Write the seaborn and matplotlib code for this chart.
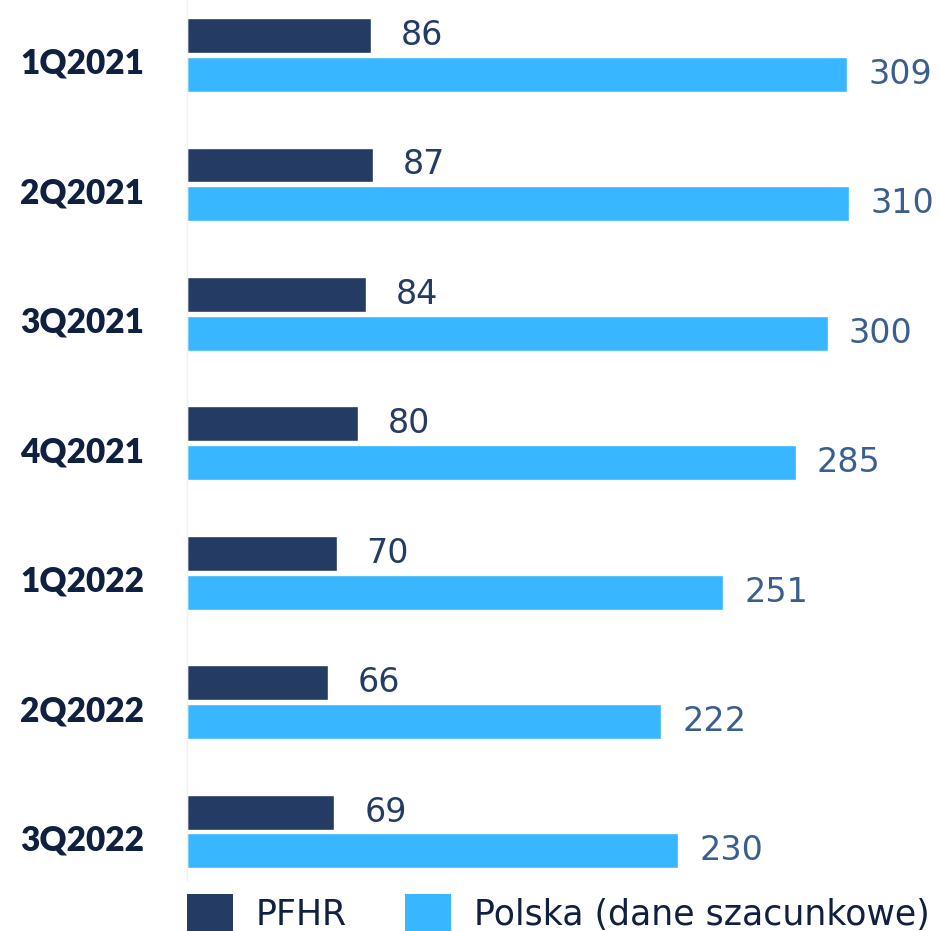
import matplotlib
matplotlib.use("Agg")
import matplotlib.pyplot as plt
import matplotlib.transforms as mtransforms
from matplotlib.patches import Patch
import seaborn as sns
import pandas as pd

categories = ["1Q2021", "2Q2021", "3Q2021", "4Q2021", "1Q2022", "2Q2022", "3Q2022"]
pfhr = [86, 87, 84, 80, 70, 66, 69]
polska = [309, 310, 300, 285, 251, 222, 230]
series_names = ["PFHR", "Polska (dane szacunkowe)"]

dark = "#243B63"
light = "#38B6FF"
label_dark = "#243B63"
label_light = "#3B5E91"
text_color = "#0F2040"

sns.set_theme(style="white")
plt.rcParams["font.family"] = ["DejaVu Sans"]

df = pd.DataFrame({
    "cat": categories * 2,
    "val": pfhr + polska,
    "series": [series_names[0]] * len(categories) + [series_names[1]] * len(categories),
})

W, H = 940, 931
fig = plt.figure(figsize=(W / 100, H / 100), dpi=100)
ax_left, ax_right, ax_top, ax_bottom = 187, 935, 0, 880
ax = fig.add_axes([ax_left / W, 1 - ax_bottom / H, (ax_right - ax_left) / W, (ax_bottom - ax_top) / H])

sns.barplot(data=df, y="cat", x="val", hue="series", orient="h", ax=ax,
            palette=[dark, light], width=0.6, gap=0.1, legend=False,
            saturation=1, order=categories, hue_order=series_names)

px_per_unit = 2.136
ax.set_xlim(0, (ax_right - ax_left) / px_per_unit)
spacing = 129.5
ax.set_ylim(6 + (ax_bottom - 831.5) / spacing, -(55 - ax_top) / spacing)

for i, c in enumerate(categories):
    ax.annotate(str(pfhr[i]), xy=(pfhr[i], i - 0.15), xytext=(51, 0), textcoords="offset pixels",
                ha="center", va="center", fontsize=24, color=label_dark)
    ax.annotate(str(polska[i]), xy=(polska[i], i + 0.15), xytext=(53, 0), textcoords="offset pixels",
                ha="center", va="center", fontsize=24, color=label_light)

ax.set_xlabel("")
ax.set_ylabel("")
ax.set_xticks([])
ax.tick_params(axis="y", length=0, pad=31)
for lab in ax.get_yticklabels():
    lab.set_fontfamily(["Lato", "DejaVu Sans"])
    lab.set_fontsize(24)
    lab.set_fontweight("heavy")
    lab.set_color(text_color)
    lab.set_transform(lab.get_transform() + mtransforms.ScaledTranslation(0, -6 / 100, fig.dpi_scale_trans))

for s in ["top", "right", "bottom"]:
    ax.spines[s].set_visible(False)
ax.spines["left"].set_color("#EEF1F5")
ax.spines["left"].set_linewidth(1)

handles = [Patch(facecolor=dark, edgecolor="none"), Patch(facecolor=light, edgecolor="none")]
fig.legend(handles, series_names, loc="upper left", bbox_to_anchor=(187 / W, 1 - 894 / H),
           ncol=2, frameon=False, fontsize=25, handlelength=1.33, handleheight=1.3,
           handletextpad=0.66, columnspacing=1.67, borderpad=0, borderaxespad=0,
           labelcolor=text_color)

fig.savefig("out.png", dpi=100)
